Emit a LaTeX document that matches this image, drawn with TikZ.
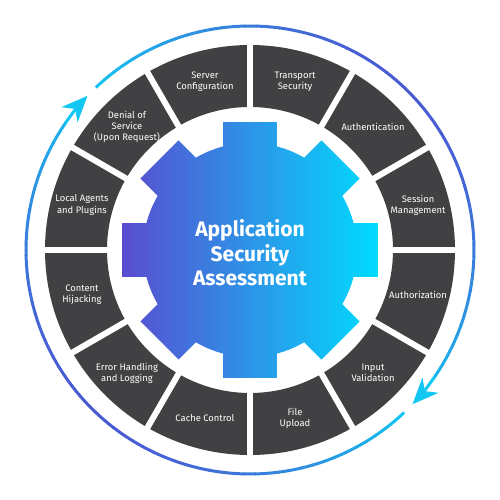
\documentclass[tikz,border=0pt]{standalone}
\usepackage{fontspec}
\setmainfont{Fira Sans}
\usetikzlibrary{arrows.meta}
\definecolor{segcol}{HTML}{414042}
\definecolor{gearleft}{HTML}{5A4CCF}
\definecolor{gearright}{HTML}{00DCFF}
\definecolor{ringblue}{HTML}{4A5AD2}
\definecolor{ringcyan}{HTML}{12C8F2}
\tikzset{
  seglabel/.style={text=white, align=center, font=\fontsize{9.4}{11.2}\selectfont},
  titlelabel/.style={text=white, align=center, font=\bfseries\fontsize{21}{24.5}\selectfont},
  ringarc/.style={line width=3pt},
}
\begin{document}
\begin{tikzpicture}[x=1pt,y=1pt]
  \useasboundingbox (-250,-250) rectangle (250,250);
  % outer ring, two arcs with arrows
  \foreach \s in {133.5,-46.5} {
    \foreach \i [evaluate=\i as \t using {int(100*abs(sin(\s-3*\i-1.5-135)))}] in {0,...,55}
      \draw[ringarc, ringblue!\t!ringcyan] (\s-3*\i:224) arc[start angle=\s-3*\i, delta angle=-3.2, radius=224];
    \draw[ringarc, ringcyan, -{Stealth[length=26pt,width=22pt,inset=8pt]}]
      (\s-168:224) arc[start angle=\s-168, delta angle=-9, radius=224];
  }
  % segments
  \fill[segcol, even odd rule] (0,0) circle[radius=205] circle[radius=143];
  \foreach \a in {0,30,...,330}
    \draw[white, line width=6pt] (\a:138) -- (\a:210);
  \foreach \a/\name/\txt in {105/srv/Server\\Configuration, 75/tls/Transport\\Security,
      45/authn/Authentication, 15/sess/Session\\Management, -15/authz/Authorization,
      -45/input/Input\\Validation, -75/upload/File\\Upload, -105/cache/Cache Control,
      -135/err/Error Handling\\and Logging, -165/hijack/Content\\Hijacking,
      165/agents/Local Agents\\and Plugins, 135/dos/Denial of\\Service\\(Upon Request)}
    \node[seglabel] (\name) at (\a:174) {\txt};
  % gear
  \shade[left color=gearleft, right color=gearright]
    (-14.6:107) \foreach \a in {0,45,...,315} {
      -- (\a-11.9:130.8) -- (\a+11.9:130.8) -- (\a+14.6:107)
      arc[start angle=\a+14.6, end angle=\a+30.4, radius=107]} -- cycle;
  \node[titlelabel] (title) at (0,-3) {Application\\Security\\Assessment};
\end{tikzpicture}
\end{document}
